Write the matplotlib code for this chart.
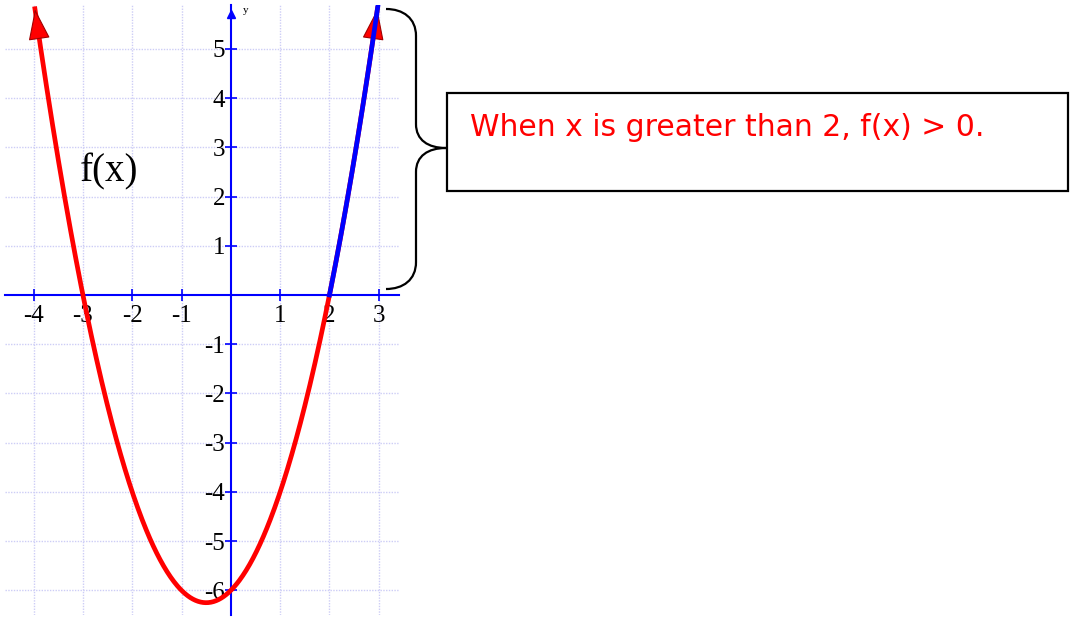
import numpy as np
import matplotlib.pyplot as plt
from matplotlib.path import Path
from matplotlib.patches import PathPatch, Rectangle

# f(x) = (x - r1)(x - r2)
roots = [-3, 2]
x_left, x_right = -3.98, 2.98      # drawn domain, arrows at both ends
positive_from = 2                  # part of the curve highlighted in blue
x_ticks = [-4, -3, -2, -1, 1, 2, 3]
y_ticks = [-6, -5, -4, -3, -2, -1, 1, 2, 3, 4, 5]
note = "When x is greater than 2, f(x) > 0."


def f(x):
    return (x - roots[0]) * (x - roots[1])


W, H = 1070, 617
fig = plt.figure(figsize=(W / 100, H / 100), dpi=100)
ax = fig.add_axes([5 / W, 2 / H, 394 / W, 610 / H])
ax.set_xlim(-4.58, 3.41)
ax.set_ylim(-6.50, 5.89)

serif = 'Liberation Serif'
blue = '#0000ff'

# axes through the origin
for side in ['top', 'right']:
    ax.spines[side].set_visible(False)
ax.spines['left'].set_position(('data', 0))
ax.spines['bottom'].set_position(('data', 0))
for side in ['left', 'bottom']:
    ax.spines[side].set_color(blue)
    ax.spines[side].set_linewidth(1.5)
    ax.spines[side].set_zorder(2)

ax.set_xticks(x_ticks)
ax.set_xticklabels([str(t) for t in x_ticks], fontfamily=serif, fontsize=18)
ax.set_yticks(y_ticks)
ax.set_yticklabels([str(t) for t in y_ticks], fontfamily=serif, fontsize=18)
ax.tick_params(axis='both', direction='inout', length=8, width=1.2, color=blue)
ax.tick_params(axis='x', pad=3)
ax.tick_params(axis='y', pad=0)
ax.grid(True, color='#cdcdf6', linestyle=(0, (1, 1)), linewidth=1.0)
ax.set_axisbelow(True)

# arrow on the y axis
ax.plot(0, 0.985, marker='^', color=blue, markersize=6,
        transform=ax.get_xaxis_transform(), clip_on=False, zorder=3)
ax.text(0.25, 5.72, 'y', fontfamily=serif, fontsize=8)

# the parabola
xs = np.linspace(x_left, x_right, 400)
ax.plot(xs, f(xs), color='red', linewidth=3.4, solid_capstyle='butt', zorder=4)
for a, b in [(x_left + 0.03, x_left), (x_right - 0.03, x_right)]:
    ax.annotate('', xy=(b, f(b)), xytext=(a, f(a)),
                arrowprops=dict(arrowstyle='-|>,head_length=1.0,head_width=0.35',
                                fc='red', ec='#a00000', lw=0.8, mutation_scale=20),
                zorder=5, annotation_clip=False)

# where f(x) > 0 to the right of the root
xp = np.linspace(positive_from, x_right, 100)
ax.plot(xp, f(xp), color=blue, linewidth=3.4, zorder=6)

ax.text(-3.07, 2.5, 'f(x)', fontfamily=serif, fontsize=28, va='center')

# overlay in pixel coordinates for the brace and note box
ov = fig.add_axes([0, 0, 1, 1])
ov.set_xlim(0, W)
ov.set_ylim(H, 0)
ov.axis('off')
ov.patch.set_alpha(0)

brace = Path(
    [(386, 9), (403, 9), (416, 18), (416, 36),
     (416, 124),
     (416, 140), (428, 148), (446, 148),
     (428, 148), (416, 156), (416, 172),
     (416, 262),
     (416, 280), (403, 289), (386, 289)],
    [Path.MOVETO, Path.CURVE4, Path.CURVE4, Path.CURVE4,
     Path.LINETO,
     Path.CURVE4, Path.CURVE4, Path.CURVE4,
     Path.CURVE4, Path.CURVE4, Path.CURVE4,
     Path.LINETO,
     Path.CURVE4, Path.CURVE4, Path.CURVE4])
ov.add_patch(PathPatch(brace, fill=False, ec='black', lw=1.6))

ov.add_patch(Rectangle((447, 93), 621, 98, fill=False, ec='black', lw=1.6))
ov.text(470, 128, note, color='red', fontsize=21.5, fontfamily='DejaVu Sans',
        va='center', ha='left')

fig.savefig('out.png', dpi=100)
